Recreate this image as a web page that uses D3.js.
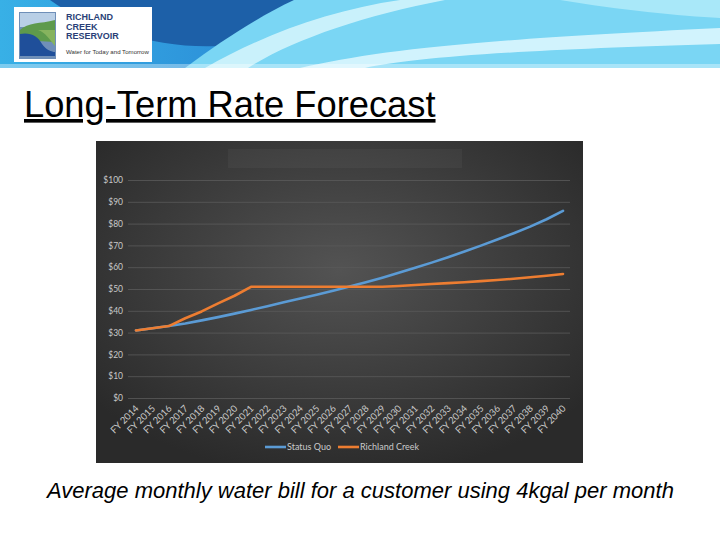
<!DOCTYPE html>
<html>
<head>
<meta charset="utf-8">
<script src="https://cdn.jsdelivr.net/npm/d3@7"></script>
<style>
  body { margin: 0; background: #fff; }
  svg { display: block; }
</style>
</head>
<body>
<svg id="slide" width="720" height="540"></svg>
<script>
// fiscal years on the x axis
const years = ["FY 2014","FY 2015","FY 2016","FY 2017","FY 2018","FY 2019","FY 2020","FY 2021","FY 2022",
  "FY 2023","FY 2024","FY 2025","FY 2026","FY 2027","FY 2028","FY 2029","FY 2030","FY 2031","FY 2032",
  "FY 2033","FY 2034","FY 2035","FY 2036","FY 2037","FY 2038","FY 2039","FY 2040"];

// monthly bill ($)
const statusQuo = [31, 32, 33, 34.2, 35.6, 37.1, 38.7, 40.4, 42.1, 43.9, 45.6, 47.4, 49.2, 51.1,
  53.1, 55.2, 57.4, 59.7, 62.1, 64.6, 67.2, 69.9, 72.7, 75.6, 78.6, 82.0, 85.8];
const richlandCreek = [31, 32, 33, 36.6, 39.7, 43.4, 46.9, 51, 51, 51, 51, 51, 51, 51,
  51, 51, 51.4, 51.8, 52.3, 52.7, 53.1, 53.6, 54.1, 54.7, 55.4, 56.1, 56.9];

const yTicks = [0, 10, 20, 30, 40, 50, 60, 70, 80, 90, 100];
const seriesNames = ["Status Quo", "Richland Creek"];
const seriesColors = ["#5b9bd5", "#ed7d31"];

const svg = d3.select("#slide");
const defs = svg.append("defs");

// ---------- header banner ----------
const bannerGrad = defs.append("linearGradient").attr("id", "bannerGrad");
bannerGrad.append("stop").attr("offset", "0%").attr("stop-color", "#38b0e6");
bannerGrad.append("stop").attr("offset", "30%").attr("stop-color", "#2d93da");
bannerGrad.append("stop").attr("offset", "100%").attr("stop-color", "#3a9fe0");

const banner = svg.append("g");
banner.append("rect").attr("width", 720).attr("height", 68).attr("fill", "url(#bannerGrad)");
// dark wave along the top
banner.append("path")
  .attr("d", "M50,0 C90,30 170,52 230,45 C262,40 282,20 294,0 Z")
  .attr("fill", "#1d60a8");
// light cyan area to the right
banner.append("path")
  .attr("d", "M185,68 C222,40 262,15 294,0 L720,0 L720,68 Z")
  .attr("fill", "#7ad6f4");
// white swooshes
banner.append("path")
  .attr("d", "M205,68 C262,35 330,10 400,0 L445,0 C362,16 292,40 248,68 Z")
  .attr("fill", "#d2f4fc").attr("opacity", 0.9);
banner.append("path")
  .attr("d", "M300,68 C380,50 470,40 720,28 L720,44 C510,50 410,58 365,68 Z")
  .attr("fill", "#e0f8fe").attr("opacity", 0.85);
banner.append("path")
  .attr("d", "M560,0 C620,10 680,16 720,18 L720,0 Z")
  .attr("fill", "#a9e8f9");
banner.append("rect").attr("y", 64).attr("width", 720).attr("height", 4).attr("fill", "#ffffff").attr("opacity", 0.35);

// logo
const logo = svg.append("g");
logo.append("rect").attr("x", 14).attr("y", 7).attr("width", 138).attr("height", 55).attr("fill", "#fff");
logo.append("rect").attr("x", 19).attr("y", 12).attr("width", 37).attr("height", 47).attr("fill", "#6f8fb8");
logo.append("rect").attr("x", 20).attr("y", 13).attr("width", 35).attr("height", 14).attr("fill", "#b9cfe6");
logo.append("path").attr("d", "M20,30 C28,22 40,24 55,20 L55,42 L20,40 Z").attr("fill", "#5e9a4c");
logo.append("path").attr("d", "M20,34 C30,32 38,36 42,44 C46,50 52,52 55,52 L55,56 L20,56 Z").attr("fill", "#1f4f9a");
logo.append("path").attr("d", "M38,30 C45,32 50,40 55,46 L55,30 Z").attr("fill", "#86b35e");
["RICHLAND", "CREEK", "RESERVOIR"].forEach((t, i) => {
  logo.append("text").attr("x", 66).attr("y", 20 + i * 9.5).text(t)
    .attr("font-family", "Liberation Sans, Arial, sans-serif").attr("font-weight", "bold")
    .attr("font-size", 9).attr("fill", "#2a3f77");
});
logo.append("text").attr("x", 66).attr("y", 54).text("Water for Today and Tomorrow")
  .attr("font-family", "Liberation Sans, Arial, sans-serif").attr("font-size", 6.1).attr("fill", "#333");

// ---------- slide title ----------
svg.append("text").attr("x", 24).attr("y", 117)
  .text("Long-Term Rate Forecast")
  .attr("font-family", "Liberation Sans, Arial, sans-serif").attr("font-size", 36.3)
  .attr("fill", "#000").attr("text-decoration", "underline");

// ---------- chart panel ----------
const panelGrad = defs.append("radialGradient").attr("id", "panelGrad")
  .attr("cx", "50%").attr("cy", "40%").attr("r", "65%");
panelGrad.append("stop").attr("offset", "0%").attr("stop-color", "#535353");
panelGrad.append("stop").attr("offset", "100%").attr("stop-color", "#2a2a2a");

svg.append("rect").attr("x", 96).attr("y", 141).attr("width", 487).attr("height", 322)
  .attr("fill", "url(#panelGrad)");
// empty chart title placeholder
svg.append("rect").attr("x", 228).attr("y", 149).attr("width", 234).attr("height", 19)
  .attr("fill", "#ffffff").attr("opacity", 0.04);

const plotLeft = 128, plotRight = 570;
const x = d3.scalePoint().domain(years).range([136, 563]);
const y = d3.scaleLinear().domain([0, 100]).range([398, 180]);

const chartFont = "Lato, 'Open Sans', sans-serif";

const yAxis = svg.append("g").attr("transform", `translate(${plotLeft},0)`)
  .call(d3.axisLeft(y).tickValues(yTicks).tickFormat(d => "$" + d)
    .tickSize(-(plotRight - plotLeft)).tickPadding(5));
yAxis.select(".domain").remove();
yAxis.selectAll("line").attr("stroke", "#5a5a5a").attr("stroke-width", 0.8);
yAxis.selectAll("text").attr("fill", "#c9c9c9").attr("font-size", 8.5).attr("font-family", chartFont);

const xAxis = svg.append("g").attr("transform", "translate(0,398)")
  .call(d3.axisBottom(x).tickSize(0).tickPadding(0));
xAxis.select(".domain").remove();
xAxis.selectAll("text")
  .attr("fill", "#c9c9c9").attr("font-size", 9.5).attr("font-family", chartFont)
  .attr("text-anchor", "end").attr("y", 0).attr("dy", 0)
  .attr("transform", "translate(3,11) rotate(-45)");

// ---------- series ----------
const line = d3.line().x((d, i) => x(years[i])).y(d => y(d));
[statusQuo, richlandCreek].forEach((vals, k) => {
  svg.append("path").datum(vals)
    .attr("d", line)
    .attr("fill", "none")
    .attr("stroke", seriesColors[k])
    .attr("stroke-width", 2.6)
    .attr("stroke-linejoin", "round")
    .attr("stroke-linecap", "round");
});

// ---------- legend ----------
const legendX = [265, 338];
seriesNames.forEach((name, k) => {
  const g = svg.append("g").attr("transform", `translate(${legendX[k]},447)`);
  g.append("line").attr("x1", 0).attr("x2", 21).attr("stroke", seriesColors[k]).attr("stroke-width", 2.6);
  g.append("text").attr("x", 22).attr("y", 3.2).text(name)
    .attr("fill", "#c9c9c9").attr("font-size", 9).attr("font-family", chartFont);
});

// ---------- caption ----------
svg.append("text").attr("x", 47).attr("y", 498)
  .text("Average monthly water bill for a customer using 4kgal per month")
  .attr("font-family", "Liberation Sans, Arial, sans-serif").attr("font-style", "italic")
  .attr("font-size", 22).attr("fill", "#000");
</script>
</body>
</html>
